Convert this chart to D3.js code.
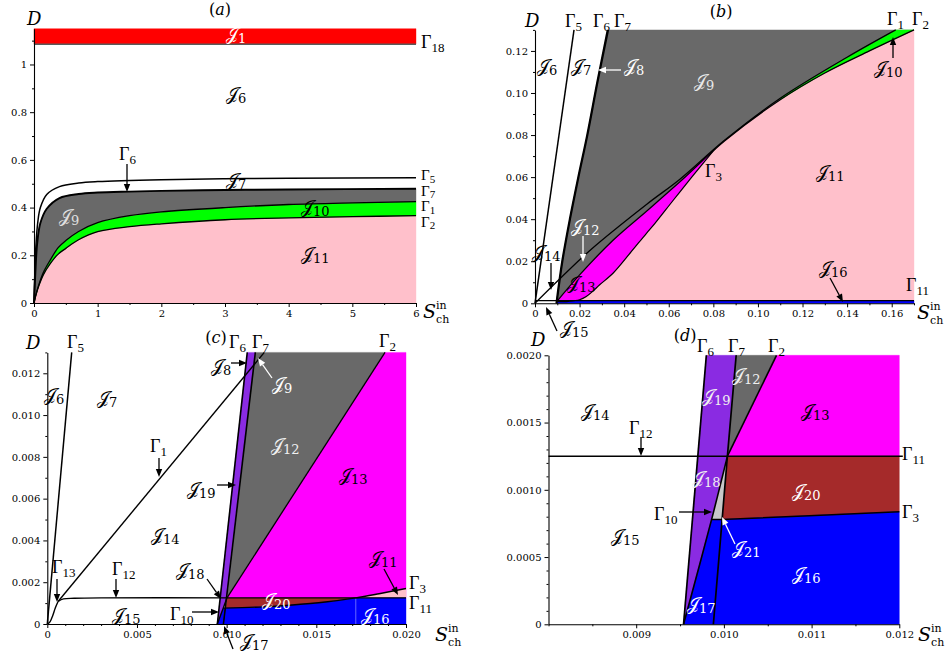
<!DOCTYPE html>
<html><head><meta charset="utf-8">
<script src="https://cdn.jsdelivr.net/npm/d3@7"></script>
<style>
body{margin:0;background:#fff}
svg text{font-family:"DejaVu Serif","Liberation Serif",serif}
.tk text{font-size:10px;font-family:"DejaVu Serif",serif}
.tk path,.tk line{stroke:#000}
.gl{font-family:"Liberation Serif",serif}
.jl{font-family:"DejaVu Serif","DejaVu Sans",serif;font-size:18px}
</style></head><body>
<svg id="fig" width="950" height="652"></svg>
<script>
// ---------- (a) whole range ----------
const aXTicks=[0,1,2,3,4,5,6];
const aXLabels=["0","1","2","3","4","5","6"];
const aXMinor=[0.5,1.5,2.5,3.5,4.5,5.5];
const aYTicks=[0,0.2,0.4,0.6,0.8,1];
const aYLabels=["0","0.2","0.4","0.6","0.8","1"];
const aYMinor=[0.1,0.3,0.5,0.7,0.9,1.1];
const aDomX=[0,6], aDomY=[0,1.15];
const aGamma18=1.085;
const aGamma5=[[0,0],[0.01,0.1],[0.03,0.24],[0.06,0.34],[0.1,0.40],[0.2,0.455],[0.4,0.488],[0.7,0.503],[1,0.509],[2,0.517],[3,0.521],[4,0.523],[6,0.525]];
const aGamma7=[[0,0],[0.02,0.12],[0.05,0.25],[0.1,0.335],[0.2,0.395],[0.4,0.44],[0.7,0.457],[1,0.463],[1.5,0.467],[2,0.47],[3,0.474],[4,0.476],[6,0.479]];
const aGamma1=[[0,0],[0.03,0.035],[0.08,0.08],[0.15,0.13],[0.25,0.178],[0.38,0.232],[0.5,0.262],[0.7,0.3],[1,0.337],[1.5,0.366],[2,0.382],[3,0.4],[4,0.413],[5,0.42],[6,0.425]];
const aGamma2=[[0,0],[0.03,0.033],[0.08,0.075],[0.15,0.12],[0.25,0.163],[0.38,0.205],[0.5,0.229],[0.7,0.265],[1,0.299],[1.5,0.32],[2,0.332],[3,0.349],[4,0.357],[5,0.362],[6,0.366]];

// ---------- (b) ----------
const bXTicks=[0,0.02,0.04,0.06,0.08,0.10,0.12,0.14,0.16];
const bXLabels=["0","0.02","0.04","0.06","0.08","0.10","0.12","0.14","0.16"];
const bXMinor=[0.01,0.03,0.05,0.07,0.09,0.11,0.13,0.15,0.17];
const bYTicks=[0,0.02,0.04,0.06,0.08,0.10,0.12];
const bYLabels=["0","0.02","0.04","0.06","0.08","0.10","0.12"];
const bYMinor=[0.01,0.03,0.05,0.07,0.09,0.11,0.13];
const bDomX=[0,0.17], bDomY=[0,0.13];
const bGamma11=0.00125;
const bGamma5=[[0,0],[0.0175,0.13]];
const bGamma6=[[0.0095,0],[0.0121,0.02],[0.0155,0.04],[0.0193,0.06],[0.0233,0.08],[0.0278,0.105],[0.0325,0.13]];
const bGamma7=[[0.0098,0],[0.0124,0.02],[0.0158,0.04],[0.0196,0.06],[0.0236,0.08],[0.0281,0.105],[0.0329,0.13]];
const bGamma1=[[0,0],[0.0115,0.012],[0.025,0.0255],[0.05,0.047],[0.065,0.059],[0.085,0.0775],[0.11,0.0975],[0.14,0.117],[0.1618,0.13]];
const bGamma2=[[0.0101,0.00125],[0.02,0.0135],[0.035,0.03],[0.05,0.0438],[0.065,0.0578],[0.085,0.0772],[0.11,0.0968],[0.13,0.1095],[0.15,0.12],[0.17,0.13]];
const bGamma3=[[0.0101,0.0008],[0.015,0.00095],[0.02,0.0017],[0.023,0.0032],[0.026,0.0058],[0.029,0.0088],[0.035,0.0143],[0.0426,0.0238],[0.05,0.0333],[0.0538,0.038],[0.062,0.049],[0.0703,0.06],[0.0808,0.0736]];

// ---------- (c) ----------
const cXTicks=[0,0.005,0.010,0.015,0.020];
const cXLabels=["0","0.005","0.010","0.015","0.020"];
const cXMinor=[0.001,0.002,0.003,0.004,0.006,0.007,0.008,0.009,0.011,0.012,0.013,0.014,0.016,0.017,0.018,0.019];
const cYTicks=[0,0.002,0.004,0.006,0.008,0.010,0.012];
const cYLabels=["0","0.002","0.004","0.006","0.008","0.010","0.012"];
const cYMinor=[0.001,0.003,0.005,0.007,0.009,0.011,0.013];
const cDomX=[0,0.02], cDomY=[0,0.013];
const cGamma5=[[0,0],[0.00136,0.013]];
const cGamma13=[[0,0],[0.00015,0.0001],[0.0003,0.0004],[0.00045,0.00078],[0.0006,0.00108]];
const cGamma12=[[0.0006,0.00108],[0.0009,0.0012],[0.0015,0.00123],[0.003,0.00125],[0.01002,0.00125]];
const cGamma11=[[0.01002,0.00125],[0.02,0.00125]];
const cGamma1=[[0.0006,0.00108],[0.0121,0.013]];
const cGamma6=[[0.00948,0],[0.01115,0.013]];
const cGamma7=[[0.00982,0],[0.0116,0.013]];
const cGamma10=[[0.00948,0],[0.00981,0.00076],[0.01002,0.00125]];
const cGamma2=[[0.01002,0.00125],[0.01883,0.013]];
const cGamma3=[[0.00981,0.00076],[0.012,0.00082],[0.0135,0.0009],[0.0155,0.00105],[0.0172,0.00125],[0.0185,0.00145],[0.02,0.0017]];
const cJ21=[[0.00981,0.00076],[0.00992,0.00077],[0.01002,0.00125]];
const cSplit=0.0172;

// ---------- (d) ----------
const dXTicks=[0.009,0.010,0.011,0.012];
const dXLabels=["0.009","0.010","0.011","0.012"];
const dXMinor=[0.008,0.0085,0.0095,0.0105,0.0115];
const dYTicks=[0,0.0005,0.0010,0.0015,0.0020];
const dYLabels=["0","0.0005","0.0010","0.0015","0.0020"];
const dYMinor=[0.0001,0.0002,0.0003,0.0004,0.0006,0.0007,0.0008,0.0009,0.0011,0.0012,0.0013,0.0014,0.0016,0.0017,0.0018,0.0019];
const dDomX=[0.008,0.012], dDomY=[0,0.002];
const dGamma6=[[0.00954,0],[0.0098,0.002]];
const dGamma7=[[0.00988,0],[0.00998,0.00078],[0.01004,0.00125],[0.01014,0.002]];
const dGamma10=[[0.00954,0],[0.00986,0.00078],[0.01004,0.00125]];
const dGamma2=[[0.01004,0.00125],[0.0106,0.002]];
const dGamma12=[[0.008,0.00125],[0.01004,0.00125]];
const dGamma11=[[0.01004,0.00125],[0.012,0.00125]];
const dGamma3=[[0.00986,0.00078],[0.00998,0.00078],[0.012,0.000837]];

// colours of the regions
const C={red:"#ff0000",gray:"#696969",green:"#00ff00",pink:"#ffc0cb",magenta:"#ff00ff",
  blue:"#0000ff",brown:"#a52a2a",purple:"#8a2be2",silver:"#c8c8c8"};

const svg=d3.select("#fig");
const lin=pts=>({pts,straight:true});
const rev=a=>[...a].reverse();

function makePanel(xd,xr,yd,yr){
  const x=d3.scaleLinear().domain(xd).range(xr);
  const y=d3.scaleLinear().domain(yd).range(yr);
  const g=svg.append("g");
  const lc=d3.line().x(d=>x(d[0])).y(d=>y(d[1])).curve(d3.curveCatmullRom.alpha(0.5));
  const ls=pts=>pts.map((p,i)=>(i?"L":"M")+x(p[0])+","+y(p[1])).join("");
  const P={x,y,g};
  P.path=pieces=>pieces.map((pc,i)=>{
    const pts=pc.pts||pc;
    let d=(pc.straight||pts.length<3)?ls(pts):lc(pts);
    return i?"L"+d.slice(1):d;
  }).join("")+"Z";
  P.fill=(pieces,col)=>g.append("path").attr("d",P.path(pieces)).attr("fill",col).attr("stroke",col).attr("stroke-width",0.4);
  P.curve=(pts,w,col,op)=>g.append("path").attr("d",pts.length>2?lc(pts):ls(pts))
    .attr("fill","none").attr("stroke",col||"#000").attr("stroke-width",w||1.4)
    .attr("stroke-opacity",op==null?1:op).attr("stroke-linejoin","round");
  return P;
}

function axes(P,xt,xl,xm,yt,yl,ym){
  const y0=P.y.domain()[0], x0=P.x.domain()[0];
  const gx=P.g.append("g").attr("class","tk").attr("transform",`translate(0,${P.y(y0)})`);
  gx.call(d3.axisBottom(P.x).tickValues(xt).tickFormat((d,i)=>xl[i]).tickSizeInner(4).tickSizeOuter(0));
  const gxm=P.g.append("g").attr("class","tk").attr("transform",`translate(0,${P.y(y0)})`);
  gxm.call(d3.axisBottom(P.x).tickValues(xm).tickFormat("").tickSizeInner(2).tickSizeOuter(0));
  gxm.select(".domain").remove();
  const gy=P.g.append("g").attr("class","tk").attr("transform",`translate(${P.x(x0)},0)`);
  gy.call(d3.axisLeft(P.y).tickValues(yt).tickFormat((d,i)=>yl[i]).tickSizeInner(4).tickSizeOuter(0));
  const gym=P.g.append("g").attr("class","tk").attr("transform",`translate(${P.x(x0)},0)`);
  gym.call(d3.axisLeft(P.y).tickValues(ym).tickFormat("").tickSizeInner(2).tickSizeOuter(0));
  gym.select(".domain").remove();
  svg.selectAll(".tk .domain").attr("stroke-width",1.1);
}

// text helpers
function G(g,x,y,sub,col,fs){
  fs=fs||18;
  const t=g.append("text").attr("class","gl").attr("x",x).attr("y",y).attr("fill",col||"#000").style("font-size",fs+"px");
  t.append("tspan").text("Γ");
  t.append("tspan").attr("dy",fs<18?2.5:4).style("font-size",(fs<18?11:13)+"px").text(sub);
}
function J(g,x,y,sub,col){
  const t=g.append("text").attr("class","jl").attr("x",x).attr("y",y).attr("fill",col||"#000");
  t.append("tspan").text("𝒥");
  t.append("tspan").attr("dy",3).style("font-size","13px").text(sub);
}
function Dlab(g,x,y){
  g.append("text").attr("x",x).attr("y",y).attr("font-size",18).attr("font-style","italic")
   .attr("font-family","Liberation Serif,serif").text("D");
}
function Slab(g,x,y){
  g.append("text").attr("x",x).attr("y",y).attr("font-size",19).attr("font-style","italic")
   .attr("font-family","Liberation Serif,serif").text("S");
  g.append("text").attr("x",x+13).attr("y",y-9).attr("font-size",11).attr("font-family","DejaVu Serif,serif").text("in");
  g.append("text").attr("x",x+13).attr("y",y+5).attr("font-size",11).attr("font-family","DejaVu Serif,serif").text("ch");
}
function title(g,x,y,letter){
  const t=g.append("text").attr("x",x).attr("y",y).attr("text-anchor","middle").attr("font-size",16).attr("font-family","Liberation Serif,serif");
  t.append("tspan").text("(");
  t.append("tspan").attr("font-style","italic").text(letter);
  t.append("tspan").text(")");
}
function arrow(g,x1,y1,x2,y2,col){
  col=col||"#000";
  const a=Math.atan2(y2-y1,x2-x1), L=8, w=3.2;
  const bx=x2-L*Math.cos(a), by=y2-L*Math.sin(a);
  g.append("line").attr("x1",x1).attr("y1",y1).attr("x2",bx).attr("y2",by).attr("stroke",col).attr("stroke-width",1.3);
  g.append("path").attr("d",`M${x2},${y2}L${bx+w*Math.sin(a)},${by-w*Math.cos(a)}L${bx-w*Math.sin(a)},${by+w*Math.cos(a)}Z`).attr("fill",col);
}

// ================= panel (a) =================
{
  const P=makePanel(aDomX,[34,416],aDomY,[303,28.7]);
  const top=aDomY[1], xe=aDomX[1];
  P.fill([lin([[0,aGamma18],[0,top],[xe,top],[xe,aGamma18]])],C.red);
  P.fill([[[0,0]],aGamma2,lin([[xe,0]])],C.pink);
  P.fill([aGamma2,rev(aGamma1)],C.green);
  P.fill([aGamma1,rev(aGamma7)],C.gray);
  P.curve([[0,aGamma18],[xe,aGamma18]],1.6,"#5a5a5a");
  P.curve(aGamma2,1.3); P.curve(aGamma1,1.3);
  P.curve(aGamma7,1.9); P.curve(aGamma5,1.5);
  axes(P,aXTicks,aXLabels,aXMinor,aYTicks,aYLabels,aYMinor);
  const g=P.g;
  title(g,220,15,"a"); Dlab(g,27,25);
  J(g,226,40,"1","#fff"); G(g,421,48,"18");
  J(g,226,100,"6"); J(g,226,186,"7");
  G(g,119,160,"6"); arrow(g,127,164,127,192);
  // stacked boundary names at the right end of the curves
  G(g,421,180,"5",null,15); G(g,421,195.5,"7",null,15); G(g,421,211,"1",null,15); G(g,421,226.5,"2",null,15);
  J(g,59,222,"9","#e0e0e0"); J(g,301,213,"10"); J(g,301,260,"11");
  Slab(g,423,318);
}

// ================= panel (b) =================
{
  const P=makePanel(bDomX,[535,914],bDomY,[303.3,29.9]);
  const top=bDomY[1], xe=bDomX[1];
  P.fill([bGamma7,lin([[xe,top]]),rev(bGamma2)],C.gray);
  P.fill([lin([[bGamma2[0][0],bGamma11],[xe,bGamma11],[xe,top]]),rev(bGamma2)],C.pink);
  P.fill([bGamma2.filter(d=>d[0]<=0.081),rev(bGamma3)],C.magenta);
  P.fill([bGamma1.filter(d=>d[0]>=0.1),lin([[xe,top]]),rev(bGamma2.filter(d=>d[0]>=0.1))],C.green);
  P.fill([lin([[bGamma7[0][0],0],[bGamma7[0][0],bGamma11],[xe,bGamma11],[xe,0]])],C.blue);
  P.curve([[0,bGamma11],[xe,bGamma11]],1.2);
  P.curve(bGamma3,1.2); P.curve(bGamma2,1.3); P.curve(bGamma1,1.3);
  P.curve(bGamma5,1.5); P.curve(bGamma6,1.6); P.curve(bGamma7,1.6);
  axes(P,bXTicks,bXLabels,bXMinor,bYTicks,bYLabels,bYMinor);
  const g=P.g;
  title(g,721,17,"b"); Dlab(g,525,27);
  G(g,565,27,"5"); G(g,593,27,"6"); G(g,614,27,"7"); G(g,887,25,"1"); G(g,912,25,"2");
  J(g,537,72,"6"); J(g,571,72,"7");
  J(g,624,72,"8","#fff"); arrow(g,621,70,598,70,"#fff");
  J(g,694,87,"9","#e8e8e8");
  J(g,874,74,"10"); arrow(g,893,58,893,37);
  G(g,705,177,"3"); J(g,816,178,"11");
  J(g,571,232,"12","#fff"); arrow(g,583,236,583,262,"#fff");
  J(g,532,258,"14"); arrow(g,551,263,551,290);
  J(g,567,289,"13");
  J(g,819,274,"16"); arrow(g,830,278,843,302);
  G(g,906,291,"11");
  Slab(g,917,319);
  J(g,560,334,"15"); arrow(g,557,331,546,307);
}

// ================= panel (c) =================
{
  const P=makePanel(cDomX,[47.3,406],cDomY,[624,352.4]);
  const top=cDomY[1], xe=cDomX[1];
  const jn=cGamma2[0];
  P.fill([cGamma6,rev(cGamma7).filter(d=>d[1]>=jn[1]),rev(cGamma10)],C.purple);
  P.fill([lin([jn,cGamma7[1]]),lin([cGamma2[1]])],C.gray);
  P.fill([cGamma2,lin([[xe,top],[xe,jn[1]]])],C.magenta);
  P.fill([cGamma3.filter(d=>d[0]>=cSplit),lin([[xe,jn[1]]])],C.pink);
  P.fill([lin([jn,[cSplit,jn[1]]]),rev(cGamma3.filter(d=>d[0]<=cSplit))],C.brown);
  P.fill([lin([cGamma10[0]]),cGamma3.filter(d=>d[0]<=cSplit),lin([[xe,jn[1]],[xe,0]])],C.blue);
  P.fill([lin(cJ21)],C.silver);
  P.curve([[cSplit,0],[cSplit,jn[1]]],1,"#8080ff",0.8);
  P.curve(cGamma5,1.5); P.curve(cGamma13,1.4); P.curve(cGamma12,1.4); P.curve(cGamma11,1.4);
  P.curve(cGamma1,1.4); P.curve(cGamma3,1.4); P.curve(cGamma2,1.3);
  P.curve(cGamma10,1.4); P.curve(cGamma6,1.6); P.curve(cGamma7,1.6);
  axes(P,cXTicks,cXLabels,cXMinor,cYTicks,cYLabels,cYMinor);
  const g=P.g;
  title(g,216,343,"c"); Dlab(g,26,349);
  G(g,67,348,"5"); G(g,229,348,"6"); G(g,252,348,"7"); G(g,379,347,"2");
  J(g,44,401,"6"); J(g,97,404,"7");
  J(g,211,372,"8"); arrow(g,231,363,247,363);
  J(g,272,390,"9","#fff"); arrow(g,272,378,258,358,"#fff");
  G(g,150,452,"1"); arrow(g,159,458,159,477);
  J(g,271,451,"12","#f0f0f0"); J(g,339,481,"13");
  J(g,187,495,"19"); arrow(g,217,485,236,485);
  J(g,151,541,"14");
  G(g,52,573,"13"); arrow(g,57,579,57,602);
  G(g,112,575,"12"); arrow(g,116,579,116,598);
  J(g,176,576,"18"); arrow(g,207,579,221,599);
  J(g,369,564,"11"); arrow(g,384,569,398,595);
  G(g,409,589,"3"); G(g,409,609,"11");
  J(g,262,606,"20","#fff");
  J(g,112,621,"15");
  G(g,170,620,"10"); arrow(g,192,612,219,612);
  J(g,361,621,"16","#fff");
  J(g,240,647,"17"); arrow(g,233,649,224,626);
  Slab(g,435,641);
}

// ================= panel (d) =================
{
  const P=makePanel(dDomX,[548.5,899.3],dDomY,[624.3,355.3]);
  const top=dDomY[1], xe=dDomX[1];
  const jn=dGamma2[0];
  P.fill([dGamma6,lin([dGamma7[3],jn]),rev(dGamma10)],C.purple);
  P.fill([lin([jn,dGamma7[3],dGamma2[1]])],C.gray);
  P.fill([lin([jn,dGamma2[1],[xe,top],[xe,jn[1]]])],C.magenta);
  P.fill([lin([dGamma3[1],jn,[xe,jn[1]],dGamma3[2]])],C.brown);
  P.fill([lin([dGamma10[0],dGamma3[0],dGamma3[1],dGamma3[2],[xe,0]])],C.blue);
  P.fill([lin([dGamma3[0],dGamma3[1],jn])],C.silver);
  P.curve([[dDomX[0],jn[1]],[xe+0.00004,jn[1]]],1.4);
  P.curve(dGamma3,1.5); P.curve(dGamma2,1.6); P.curve(dGamma10,1.6);
  P.curve(dGamma6,1.7); P.curve(dGamma7,1.7);
  axes(P,dXTicks,dXLabels,dXMinor,dYTicks,dYLabels,dYMinor);
  const g=P.g;
  title(g,685,341,"d"); Dlab(g,531,346);
  G(g,697,352,"6"); G(g,728,352,"7"); G(g,768,352,"2");
  J(g,732,381,"12","#f0f0f0"); J(g,702,402,"19","#f0f0f0");
  J(g,801,417,"13"); J(g,581,417,"14");
  G(g,629,434,"12"); arrow(g,641,437,641,456);
  G(g,902,460,"11");
  J(g,692,484,"18","#f0f0f0"); J(g,792,497,"20","#fff");
  G(g,654,520,"10"); arrow(g,679,512,712,512);
  G(g,902,518,"3");
  J(g,611,542,"15");
  J(g,732,554,"21","#fff"); arrow(g,735,544,722,517,"#fff");
  J(g,792,580,"16","#fff"); J(g,687,610,"17","#fff");
  Slab(g,918,641);
}
</script>
</body></html>
